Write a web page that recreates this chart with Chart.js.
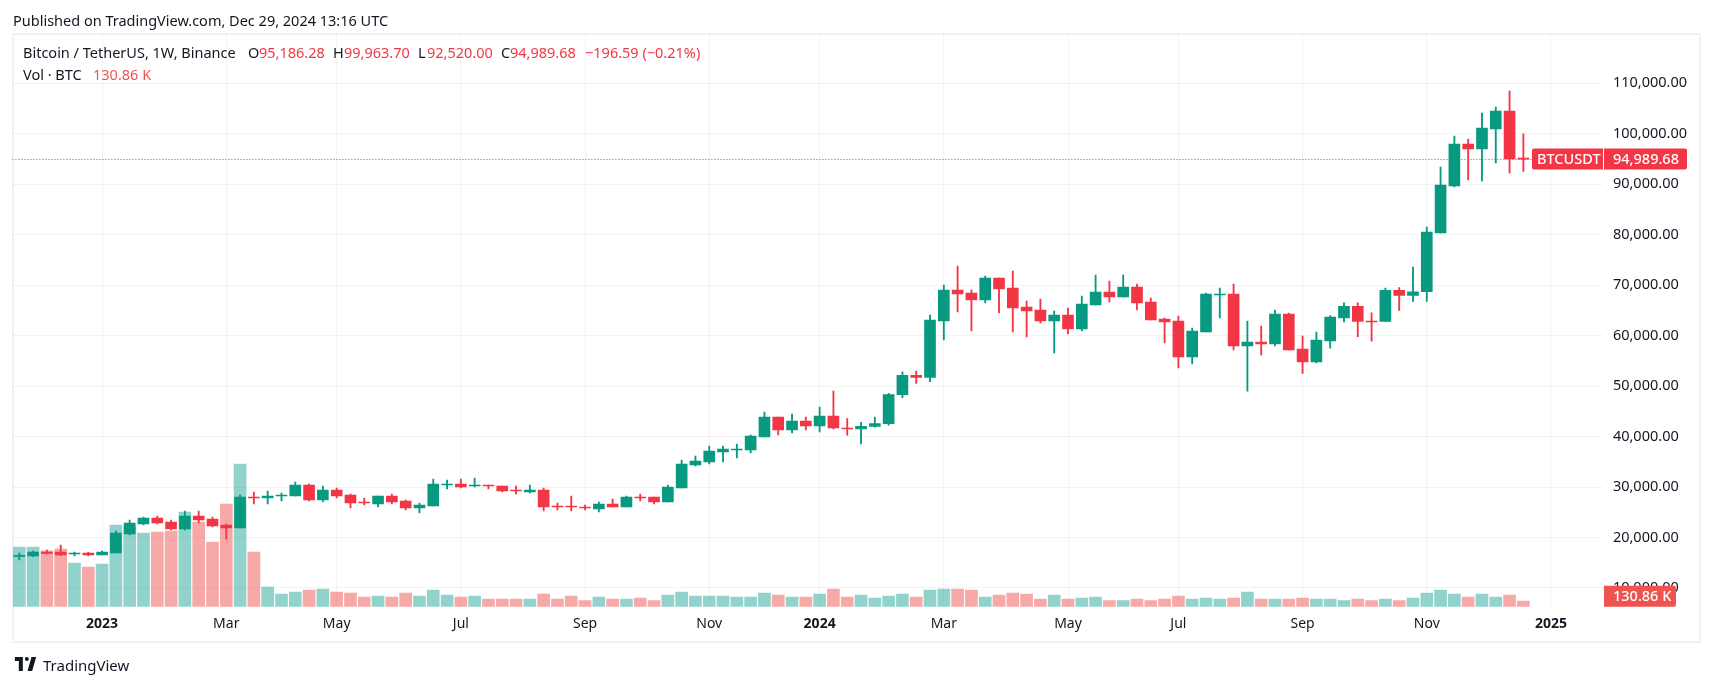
<!DOCTYPE html>
<html>
<head>
<meta charset="utf-8">
<title>BTCUSDT</title>
<script src="https://cdn.jsdelivr.net/npm/chart.js"></script>
<style>
    html, body { margin: 0; padding: 0; background: #fff; overflow: hidden; }
    body { width: 1713px; height: 686px; position: relative; font-family: "Noto Sans", sans-serif; color: #131722; }
    #frame { position: absolute; left: 12px; top: 33px; width: 1689px; height: 610px; box-sizing: border-box; border: 2px solid #f0f1f7; }
    canvas { position: absolute; left: 0; top: 0; }
    .txt { position: absolute; white-space: nowrap; font-size: 14.5px; line-height: 18px; }
    .red { color: #f23645; }
    #logo { position: absolute; left: 13px; top: 657px; width: 25px; height: 14px; }
</style>
</head>
<body>
<div id="frame"></div>
<canvas id="graphique" width="1713" height="686"></canvas>

<div class="txt" style="left:13px;top:11px">Published on TradingView.com, Dec 29, 2024 13:16 UTC</div>
<div class="txt" style="left:23px;top:43px">Bitcoin / TetherUS, 1W, Binance</div>
<div class="txt" style="left:248px;top:43px">O</div>
<div class="txt red" style="left:259px;top:43px">95,186.28</div>
<div class="txt" style="left:333px;top:43px">H</div>
<div class="txt red" style="left:344px;top:43px">99,963.70</div>
<div class="txt" style="left:418px;top:43px">L</div>
<div class="txt red" style="left:427px;top:43px">92,520.00</div>
<div class="txt" style="left:501px;top:43px">C</div>
<div class="txt red" style="left:510px;top:43px">94,989.68</div>
<div class="txt red" style="left:585px;top:43px">−196.59 (−0.21%)</div>
<div class="txt" style="left:23px;top:65px">Vol · BTC</div>
<div class="txt" style="left:93px;top:65px;color:#ef5350">130.86 K</div>

<svg id="logo" viewBox="0 0 36 21" fill="#131722"><path d="M14 0H2v6h6v15h6V0zm14 21h-7l6-21h7l-6 21zm-8-15a3 3 0 1 0 0-6 3 3 0 0 0 0 6z"/></svg>
<div class="txt" style="left:43px;top:656px;font-size:15px">TradingView</div>

<script>
// Bougies hebdomadaires BTCUSDT
const weeks = [
    '2022-11-21', '2022-11-28', '2022-12-05', '2022-12-12', '2022-12-19', '2022-12-26',
    '2023-01-02', '2023-01-09', '2023-01-16', '2023-01-23', '2023-01-30', '2023-02-06', '2023-02-13', '2023-02-20', '2023-02-27',
    '2023-03-06', '2023-03-13', '2023-03-20', '2023-03-27', '2023-04-03', '2023-04-10', '2023-04-17', '2023-04-24',
    '2023-05-01', '2023-05-08', '2023-05-15', '2023-05-22', '2023-05-29', '2023-06-05', '2023-06-12', '2023-06-19', '2023-06-26',
    '2023-07-03', '2023-07-10', '2023-07-17', '2023-07-24', '2023-07-31', '2023-08-07', '2023-08-14', '2023-08-21', '2023-08-28',
    '2023-09-04', '2023-09-11', '2023-09-18', '2023-09-25', '2023-10-02', '2023-10-09', '2023-10-16', '2023-10-23', '2023-10-30',
    '2023-11-06', '2023-11-13', '2023-11-20', '2023-11-27', '2023-12-04', '2023-12-11', '2023-12-18', '2023-12-25',
    '2024-01-01', '2024-01-08', '2024-01-15', '2024-01-22', '2024-01-29', '2024-02-05', '2024-02-12', '2024-02-19', '2024-02-26',
    '2024-03-04', '2024-03-11', '2024-03-18', '2024-03-25', '2024-04-01', '2024-04-08', '2024-04-15', '2024-04-22', '2024-04-29',
    '2024-05-06', '2024-05-13', '2024-05-20', '2024-05-27', '2024-06-03', '2024-06-10', '2024-06-17', '2024-06-24',
    '2024-07-01', '2024-07-08', '2024-07-15', '2024-07-22', '2024-07-29', '2024-08-05', '2024-08-12', '2024-08-19', '2024-08-26',
    '2024-09-02', '2024-09-09', '2024-09-16', '2024-09-23', '2024-09-30', '2024-10-07', '2024-10-14', '2024-10-21', '2024-10-28',
    '2024-11-04', '2024-11-11', '2024-11-18', '2024-11-25', '2024-12-02', '2024-12-09', '2024-12-16', '2024-12-23', '2024-12-30', '2025-01-06'
];
const opens = [
    16280, 16340, 17130, 17130, 16730, 16930, 16540, 16930, 20700, 22680, 23870, 23080, 21690, 24260, 23670, 22480, 21890, 28030, 27830, 28230,
    28230, 30410, 27430, 29420, 28430, 27040, 26640, 28230, 27240, 25850, 26250, 30410, 30610, 30210, 30410, 30210, 29420, 29020, 29420, 26250,
    26250, 26050, 25650, 26640, 26050, 28030, 28030, 27040, 29810, 34370, 34960, 36940, 37340, 37340, 39920, 43880, 41300, 43090, 42100, 44080,
    41700, 41500, 42030, 42580, 48300, 52140, 51730, 62900, 69040, 68450, 67060, 71420, 69440, 65680, 65080, 62900, 64090, 61320, 66070, 68650,
    67660, 69640, 66670, 63300, 62900, 55770, 60720, 68050, 68250, 57950, 58740, 58350, 64290, 57350, 54780, 58940, 63500, 65800, 62900, 62800,
    69000, 67950, 68700, 80340, 89650, 97970, 96980, 100940, 104510, 95186.28
];
const highs = [
    16930, 17330, 17530, 18520, 17130, 17060, 17330, 21290, 23470, 24070, 24260, 23470, 25260, 25260, 24070, 22680, 28430, 29020, 29220, 28820,
    31000, 30600, 30210, 29810, 28620, 27830, 28230, 28620, 27430, 26840, 31600, 31400, 31600, 31790, 30410, 30210, 30210, 30410, 29810, 26840,
    28230, 26440, 27040, 27630, 28230, 28620, 28030, 30410, 35360, 36150, 38130, 38130, 38530, 40310, 44870, 43880, 44470, 43880, 45860, 49030,
    43580, 42840, 43880, 48590, 52820, 52990, 64090, 70040, 73800, 69040, 71820, 71420, 72810, 66860, 67260, 64880, 65480, 67860, 72020, 70830,
    72020, 70230, 67460, 63500, 63890, 61510, 68450, 69440, 70230, 62900, 61910, 65080, 64490, 59930, 60720, 64000, 66500, 66500, 64500, 69400,
    69500, 73600, 81530, 93420, 99560, 98960, 104120, 105300, 108470, 99963.70
];
const lows = [
    15550, 16200, 16730, 16400, 16340, 16340, 16540, 16930, 20500, 22480, 22680, 21490, 21490, 22880, 22080, 19710, 21890, 26640, 26640, 27240,
    28230, 27240, 27040, 27830, 25850, 26440, 26050, 26640, 25450, 24860, 26250, 29620, 29810, 30010, 29620, 29020, 28620, 28820, 25260, 25450,
    25260, 25450, 25060, 26050, 26050, 27240, 26640, 27040, 29810, 34170, 34570, 34960, 35760, 36750, 39920, 40310, 40710, 41300, 40910, 41500,
    40280, 38550, 41880, 42260, 47710, 50520, 50900, 59140, 64690, 60920, 66470, 64490, 60720, 59730, 62510, 56560, 60330, 60920, 66070, 66670,
    67660, 65080, 63100, 58540, 53590, 54380, 60720, 63500, 57160, 49000, 56160, 57950, 57160, 52500, 54580, 57500, 62700, 59800, 58900, 62800,
    65000, 66800, 66800, 80340, 89450, 90840, 90640, 94210, 92230, 92520.00
];
const closes = [
    16470, 17130, 16870, 16540, 16930, 16540, 17130, 20900, 22880, 23870, 22880, 21690, 24260, 23470, 22280, 21890, 28030, 27830, 28230, 28430,
    30410, 27430, 29420, 28230, 26840, 26840, 28230, 27040, 25850, 26450, 30610, 30610, 30010, 30410, 30210, 29220, 29220, 29420, 26050, 26050,
    26050, 25850, 26640, 26050, 28030, 27830, 27040, 30010, 34570, 35160, 37140, 37540, 37540, 40120, 43880, 41300, 43090, 42100, 44080, 41700,
    41500, 42030, 42580, 48300, 52140, 51730, 63100, 69040, 68250, 67060, 71420, 69240, 65480, 64880, 62900, 64090, 61320, 66270, 68650, 67660,
    69640, 66470, 63100, 62700, 55770, 60920, 68250, 68250, 57950, 58740, 58350, 64290, 57160, 54780, 59140, 63690, 65800, 62800, 62700, 69000,
    67950, 68700, 80540, 89850, 97970, 96980, 101140, 104510, 95000, 94989.68
];
// Volume en milliers de BTC
const volumes = [
    1370, 1370, 1280, 1325, 1003, 912, 980, 1876, 1853, 1692, 1715, 1738, 2174, 1945, 1486, 2358, 3276, 1256, 452, 292,
    338, 383, 406, 338, 315, 223, 246, 223, 315, 246, 383, 269, 223, 246, 177, 177, 177, 177, 292, 177,
    246, 138, 223, 177, 177, 200, 138, 269, 338, 246, 246, 246, 223, 223, 315, 269, 223, 223, 292, 406,
    223, 269, 200, 246, 292, 223, 383, 406, 406, 383, 223, 269, 315, 292, 177, 269, 177, 200, 223, 138,
    138, 177, 138, 177, 246, 177, 200, 177, 200, 338, 177, 177, 177, 200, 177, 177, 138, 177, 138, 177,
    138, 200, 315, 383, 292, 223, 292, 223, 269, 130.86
];
const lastPrice = 94989.68;
const lastVolume = '130.86 K';
const priceTicks = [10000, 20000, 30000, 40000, 50000, 60000, 70000, 80000, 90000, 100000, 110000];
const tickWeeks = ['2023-01-02', '2023-03-06', '2023-05-01', '2023-07-03', '2023-09-04', '2023-11-06', '2024-01-01', '2024-03-04', '2024-05-06', '2024-07-01', '2024-09-02', '2024-11-04', '2025-01-06'];
const tickNames = ['2023', 'Mar', 'May', 'Jul', 'Sep', 'Nov', '2024', 'Mar', 'May', 'Jul', 'Sep', 'Nov', '2025'];

const UP = '#089981';
const DOWN = '#f23645';
const FONT = '"Noto Sans", sans-serif';

const candleColors = opens.map((o, i) => closes[i] >= o ? UP : DOWN);
const volumeColors = opens.map((o, i) => closes[i] >= o ? 'rgba(38, 166, 154, 0.5)' : 'rgba(239, 83, 80, 0.5)');

// Ligne du dernier prix et étiquettes de droite
const priceTags = {
    id: 'priceTags',
    afterDraw(chart) {
        const ctx = chart.ctx;
        const area = chart.chartArea;
        const y = chart.scales.y.getPixelForValue(lastPrice);
        ctx.save();
        ctx.strokeStyle = DOWN;
        ctx.lineWidth = 1;
        ctx.setLineDash([1, 2]);
        ctx.beginPath();
        ctx.moveTo(area.left, Math.round(y) + 0.5);
        ctx.lineTo(1532, Math.round(y) + 0.5);
        ctx.stroke();
        ctx.setLineDash([]);

        ctx.font = '500 14.5px ' + FONT;
        ctx.textBaseline = 'middle';
        ctx.fillStyle = DOWN;
        ctx.beginPath();
        ctx.roundRect(1532, y - 10.5, 71, 21, [2, 0, 0, 2]);
        ctx.roundRect(1604, y - 10.5, 83, 21, [0, 2, 2, 0]);
        ctx.fill();
        ctx.fillStyle = '#fff';
        ctx.fillText('BTCUSDT', 1537, y + 1);
        ctx.fillText(lastPrice.toLocaleString('en-US', { minimumFractionDigits: 2 }), 1613, y + 1);

        ctx.fillStyle = '#ef5350';
        ctx.beginPath();
        ctx.roundRect(1604, area.bottom - 21, 72, 21, [0, 2, 2, 0]);
        ctx.fill();
        ctx.fillStyle = '#fff';
        ctx.fillText(lastVolume, 1613, area.bottom - 10);
        ctx.restore();
    }
};

new Chart(document.getElementById('graphique').getContext('2d'), {
    type: 'bar',
    plugins: [priceTags],
    data: {
        datasets: [
            {
                label: 'Corps',
                data: opens.map((o, i) => ({ x: i, y: [o, closes[i]] })),
                backgroundColor: candleColors,
                barThickness: 11,
                grouped: false,
                order: 1
            },
            {
                label: 'Mèches',
                data: lows.map((l, i) => ({ x: i, y: [l, highs[i]] })),
                backgroundColor: candleColors,
                barThickness: 1.2,
                grouped: false,
                order: 2
            },
            {
                label: 'Volume',
                data: volumes.map((v, i) => ({ x: i, y: v })),
                backgroundColor: volumeColors,
                barThickness: 12,
                grouped: false,
                yAxisID: 'volume',
                order: 3
            }
        ]
    },
    options: {
        responsive: false,
        animation: false,
        layout: { padding: { left: 12.4, top: 34, right: 13, bottom: 44.3 } },
        plugins: {
            legend: { display: false },
            tooltip: { enabled: false }
        },
        scales: {
            x: {
                type: 'linear',
                offset: false,
                min: -0.5,
                max: 114.8,
                afterBuildTicks: scale => {
                    scale.ticks = tickWeeks.map(w => ({ value: weeks.indexOf(w) }));
                },
                afterFit: scale => { scale.height = 35; },
                grid: { color: 'rgba(42, 46, 57, 0.06)', drawTicks: false, offset: false },
                border: { display: false },
                ticks: {
                    autoSkip: false,
                    maxRotation: 0,
                    padding: 9,
                    color: '#131722',
                    callback: value => tickNames[tickWeeks.indexOf(weeks[value])],
                    font: c => ({
                        family: FONT,
                        size: 14,
                        weight: c.tick && /^\d{4}$/.test(c.tick.label) ? 'bold' : 'normal'
                    })
                }
            },
            y: {
                position: 'right',
                min: 6293,
                max: 119768,
                afterBuildTicks: scale => {
                    scale.ticks = priceTicks.map(value => ({ value }));
                },
                afterFit: scale => { scale.width = 96.6; },
                grid: { color: 'rgba(42, 46, 57, 0.06)', drawTicks: false },
                border: { display: false },
                ticks: {
                    padding: 9.5,
                    color: '#131722',
                    font: { family: FONT, size: 14.5 },
                    callback: value => value.toLocaleString('en-US', { minimumFractionDigits: 2 })
                }
            },
            volume: {
                display: false,
                position: 'left',
                min: 0,
                max: 13150
            }
        }
    }
});
</script>
</body>
</html>
